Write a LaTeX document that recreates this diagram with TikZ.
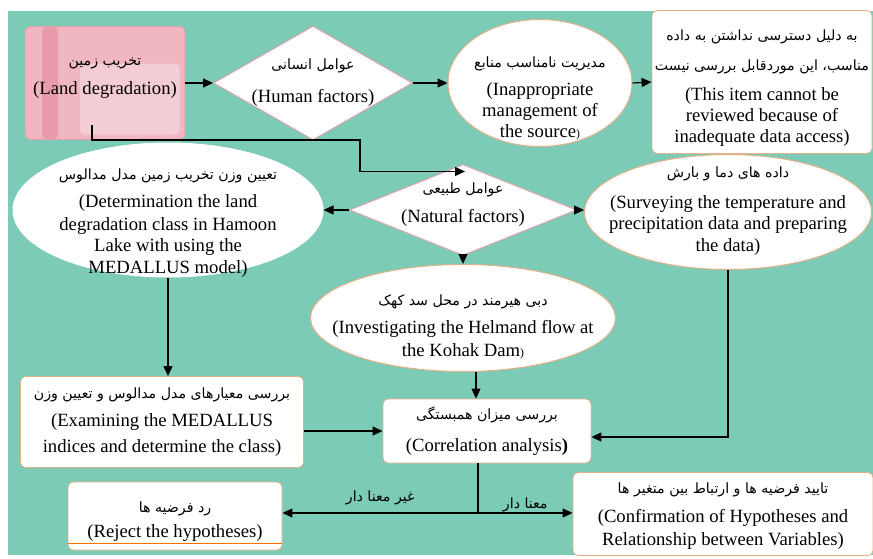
\documentclass[tikz,border=0pt]{standalone}
\usepackage{fontspec}
\setmainfont{Liberation Serif}
\newfontfamily\farsi[Script=Arabic]{DejaVu Sans}
\usetikzlibrary{shapes.geometric,arrows.meta}
\TeXXeTstate=1

\newcommand\ftx[1]{{\farsi\fontsize{8.5}{10}\selectfont\beginR #1\endR}}
\newcommand\padtop[1]{\rule{0pt}{#1}}
\newcommand\padbot[1]{\rule[-#1]{0pt}{#1}}

\definecolor{bgteal}{RGB}{124,203,182}
\definecolor{pinkbox}{RGB}{240,183,193}
\definecolor{pinkdark}{RGB}{232,156,170}
\definecolor{tanline}{RGB}{228,176,136}
\definecolor{rosyline}{RGB}{222,165,172}

\begin{document}
\begin{tikzpicture}[x=0.6pt,y=-0.6pt]
\tikzstyle{every node}=[font=\fontsize{11.2}{12.8}\selectfont, align=center]
\tikzstyle{box}=[draw=tanline, fill=white, rounded corners=3pt, inner sep=0pt, line width=0.5pt]
\tikzstyle{oval}=[ellipse, draw=tanline, fill=white, inner sep=-16pt, line width=0.6pt]
\tikzstyle{choice}=[diamond, draw=rosyline, fill=white, inner sep=-10pt, line width=0.6pt]
\tikzstyle{arr}=[-{Triangle[length=6pt,width=5.4pt]}, line width=0.7pt]

\useasboundingbox (0,0) rectangle (873,559);
\fill[bgteal] (8,11) rectangle (873,555);

% top row
\node (land) at (105,83) [box, fill=pinkbox, draw=pinkdark, minimum width=96pt, minimum height=67.8pt,
  path picture={
    \fill[pinkdark] ([xshift=10.2pt]path picture bounding box.north west) rectangle ([xshift=19.8pt]path picture bounding box.south west);
    \fill[white, opacity=.3, rounded corners=3pt] ([xshift=33pt,yshift=-22.2pt]path picture bounding box.north west) rectangle ([xshift=-3pt,yshift=3pt]path picture bounding box.south east);
  }] {\ftx{تخریب زمین}\\[5pt] (Land degradation)\padbot{8pt}};

\node (human) at (313,83) [choice, aspect=1.75, minimum width=119.4pt, minimum height=68.4pt] {\ftx{عوامل انسانی}\\[7pt] (Human factors)};

\node (inapp) at (540,83) [oval, minimum width=110.4pt, minimum height=76.2pt] {\padtop{25pt}\ftx{مدیریت نامناسب منابع}\\[4pt] (Inappropriate\\ management of\\ the source{\scriptsize)}};

\node (item) at (762,82) [box, minimum width=132pt, minimum height=85.8pt] {\padtop{14pt}\ftx{به دلیل دسترسی نداشتن به داده}\\[5pt] \ftx{مناسب، این موردقابل بررسی نیست}\\[5pt] (This item cannot be\\ reviewed because of\\ inadequate data access)};

% middle row
\node (natural) at (463,210) [choice, aspect=2.5, minimum width=136.2pt, minimum height=54.6pt] {\ftx{عوامل طبیعی}\\[5pt] (Natural factors)\padbot{9pt}};

\node (det) at (168,210) [oval, draw=white, minimum width=186pt, minimum height=80.4pt] {\padtop{22pt}\ftx{تعیین وزن تخریب زمین مدل مدالوس}\\[4pt] (Determination the land\\[1pt] degradation class in Hamoon\\ Lake with using the\\ MEDALLUS model)};

\node (survey) at (728,212) [oval, minimum width=172.2pt, minimum height=69pt] {\ftx{داده های دما و بارش}\\[6pt] (Surveying the temperature and\\ precipitation data and preparing\\ the data)\padbot{4pt}};

\node (helmand) at (463,318) [oval, minimum width=183pt, minimum height=64.2pt] {\padtop{17pt}\ftx{دبی هیرمند در محل سد کهک}\\[4pt] (Investigating the Helmand flow at\\[1pt] the Kohak Dam{\scriptsize)}};

% bottom rows
\node (exam) at (162,422) [box, minimum width=169.8pt, minimum height=54.6pt] {\ftx{بررسی معیارهای مدل مدالوس و تعیین وزن}\\[4pt] (Examining the MEDALLUS\\[3pt] indices and determine the class)};

\node (corr) at (487,431) [box, minimum width=124.8pt, minimum height=38.4pt] {\ftx{بررسی میزان همبستگی}\\[6pt] (Correlation analysis\textbf{)}};

\node (reject) at (175,516) [box, minimum width=128.4pt, minimum height=40.8pt] {\padtop{13pt}\ftx{رد فرضیه ها}\\[2pt] (Reject the hypotheses)};
\draw[orange!85!red, line width=0.8pt] ([yshift=4.2pt]reject.south west) -- ([yshift=4.2pt]reject.south east);

\node (confirm) at (723,514) [box, minimum width=180pt, minimum height=49.8pt] {\padtop{9pt}\ftx{تایید فرضیه ها و ارتباط بین متغیر ها}\\[5pt] (Confirmation of Hypotheses and\\[1pt] Relationship between Variables)};

% connectors
\draw[arr] (land.east) -- (human.west);
\draw[arr] (human.east) -- (inapp.west);
\draw[arr] (inapp.east) -- (item.west);

\coordinate (elbow) at (360,140);
\draw[arr] ([xshift=-7.8pt,yshift=8.7pt]land.south) |- (elbow) |- ([xshift=1.2pt,yshift=-4.5pt]natural.north);

\draw[arr] (natural.west) -- (natural.west -| det.east);
\draw[arr] (natural.east) -- (natural.east -| survey.west);
\draw[arr] (natural.south) -- (helmand.north);

\draw[arr] (det.south) -- (det.south |- exam.north);
\draw[arr] ([xshift=7.8pt]helmand.south) -- ([xshift=7.8pt]helmand.south |- corr.north);
\draw[arr] (survey.south) |- ([yshift=-3.6pt]corr.east);
\draw[arr] (exam.east |- corr.west) -- (corr.west);

\coordinate (split) at (478,513);
\draw[line width=0.7pt] (corr.south -| split) -- (split);
\draw[arr] (split) -- (split -| reject.east) node (nosig) [midway, above=4.5pt, inner sep=0pt] {\ftx{غیر معنا دار}};
\draw[arr] (split) -- (split -| confirm.west) node (sig) [midway, above=0.5pt, inner sep=0pt] {\ftx{معنا دار}};

\end{tikzpicture}
\end{document}
